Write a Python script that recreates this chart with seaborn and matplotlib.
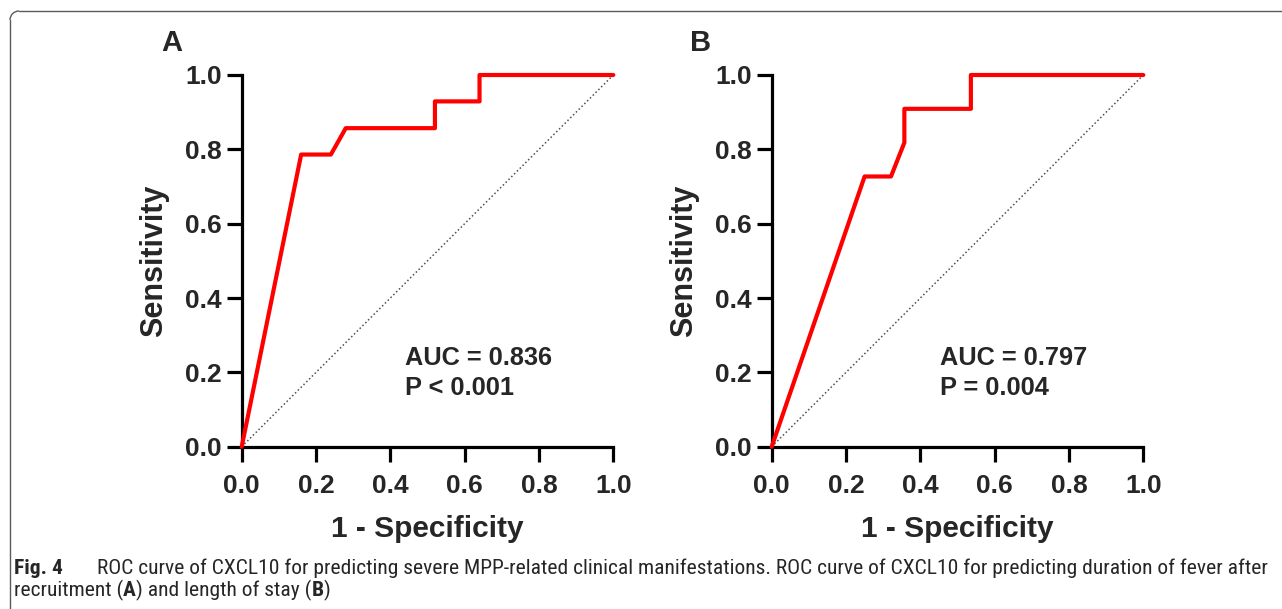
import numpy as np
import pandas as pd
import matplotlib
matplotlib.use("Agg")
import matplotlib.pyplot as plt
from matplotlib import font_manager
from matplotlib.lines import Line2D
from matplotlib.patches import Arc
import seaborn as sns

# ---- data ----
a_fpr = [0.0, 0.16, 0.24, 0.28, 0.52, 0.52, 0.64, 0.64, 1.0]
a_tpr = [0.0, 0.786, 0.786, 0.857, 0.857, 0.929, 0.929, 1.0, 1.0]
b_fpr = [0.0, 0.25, 0.321, 0.357, 0.357, 0.536, 0.536, 1.0]
b_tpr = [0.0, 0.727, 0.727, 0.818, 0.909, 0.909, 1.0, 1.0]
panel_labels = ["A", "B"]
auc_lines = [["AUC = 0.836", "P < 0.001"], ["AUC = 0.797", "P = 0.004"]]
ticks = [0.0, 0.2, 0.4, 0.6, 0.8, 1.0]
tick_labels = ["0.0", "0.2", "0.4", "0.6", "0.8", "1.0"]
x_label = "1 - Specificity"
y_label = "Sensitivity"
caption_bold = "Fig. 4"
caption_line1 = ("ROC curve of CXCL10 for predicting severe MPP-related clinical manifestations. "
                 "ROC curve of CXCL10 for predicting duration of fever after")
caption_line2 = [("recruitment (", "normal"), ("A", "bold"), (") and length of stay (", "normal"),
                 ("B", "bold"), (")", "normal")]

sns.set_theme(style="ticks")
names = {f.name for f in font_manager.fontManager.ttflist}
main_font = "Liberation Sans" if "Liberation Sans" in names else "DejaVu Sans"
plt.rcParams['font.family'] = [main_font, 'DejaVu Sans']

W, H = 1282, 609
fig = plt.figure(figsize=(W / 100, H / 100), dpi=100)
fig.patch.set_facecolor("white")

def px_rect(left, top, right, bottom):
    return [left / W, (H - bottom) / H, (right - left) / W, (bottom - top) / H]

panels = [
    (a_fpr, a_tpr, px_rect(241.7, 75, 613.3, 446.7), 0.44, (161, 30)),
    (b_fpr, b_tpr, px_rect(771.7, 75, 1143.3, 446.7), 0.453, (690.5, 30)),
]

for i, (fx, ty, rect, tx, lab_pos) in enumerate(panels):
    ax = fig.add_axes(rect)
    df = pd.DataFrame({"fpr": fx, "tpr": ty})
    ax.plot([0, 1], [0, 1], ls=(0, (1, 1.6)), color="#505050", lw=1.1, zorder=1)
    sns.lineplot(data=df, x="fpr", y="tpr", sort=False, estimator=None,
                 color="#ff0000", lw=3.0, ax=ax, zorder=3)
    for ln in ax.lines:
        ln.set_clip_on(False)
    ax.set_xlim(0, 1)
    ax.set_ylim(0, 1)
    ax.set_xticks(ticks)
    ax.set_yticks(ticks)
    ax.set_xticklabels(tick_labels, fontsize=19, fontweight="bold")
    ax.set_yticklabels(tick_labels, fontsize=19, fontweight="bold")
    for s in ["top", "right"]:
        ax.spines[s].set_visible(False)
    for s in ["left", "bottom"]:
        ax.spines[s].set_linewidth(2.3)
        ax.spines[s].set_color("black")
    ax.tick_params(axis="both", length=10.5, width=2.3, color="black", direction="out")
    ax.tick_params(axis="y", pad=4)
    ax.tick_params(axis="x", pad=9.5)
    ax.set_xlabel(x_label, fontsize=21.5, fontweight="bold", labelpad=12)
    ax.set_ylabel(y_label, fontsize=22, fontweight="bold", labelpad=11)
    ax.set_facecolor("white")
    ax.grid(False)
    for txt, yb in zip(auc_lines[i], [0.22, 0.139]):
        ax.text(tx, yb, txt, fontsize=18.3, fontweight="bold",
                ha="left", va="baseline", transform=ax.transData)
    fig.text(lab_pos[0] / W, 1 - 51 / H, panel_labels[i], fontsize=21,
             fontweight="bold", ha="left", va="baseline")

# ---- frame (rounded top-left corner) ----
fa = fig.add_axes([0, 0, 1, 1], zorder=-5)
fa.set_xlim(0, W)
fa.set_ylim(H, 0)
fa.axis("off")
r = 9
frame_col = "#5a5a5a"
fa.add_line(Line2D([10, 10], [H + 5, 11 + r], color=frame_col, lw=1.0))
fa.add_line(Line2D([10 + r, W + 5], [11, 11], color=frame_col, lw=1.0))
fa.add_patch(Arc((10 + r, 11 + r), 2 * r, 2 * r, theta1=180, theta2=270,
                 color=frame_col, lw=1.0))

# ---- caption ----
cap_font = "Roboto"
for cand in ["Liberation Sans Narrow", "Roboto Condensed", "Open Sans Condensed",
             "Noto Sans Condensed", "DejaVu Sans Condensed", "Arial Narrow"]:
    if cand in names:
        cap_font = cand
        break
cap_family = [cap_font, "DejaVu Sans"]
renderer = fig.canvas.get_renderer()

def text_width_px(t):
    return t.get_window_extent(renderer=renderer).width

cap_size = 12.0
probe = fig.text(0, 0, caption_line1, fontsize=cap_size, family=cap_family)
wp = text_width_px(probe)
probe.remove()
cap_size = cap_size * (1265 - 97) / wp

y1 = 1 - 574 / H
y2 = 1 - 596 / H
fig.text(14 / W, y1, caption_bold, fontsize=cap_size, fontweight="bold",
         family=cap_family, va="baseline", ha="left")
fig.text(97 / W, y1, caption_line1, fontsize=cap_size,
         family=cap_family, va="baseline", ha="left")
x = 14.0
for seg, wt in caption_line2:
    t = fig.text(x / W, y2, seg, fontsize=cap_size, fontweight=wt,
                 family=cap_family, va="baseline", ha="left")
    x += text_width_px(t)

fig.savefig("out.png", dpi=100, facecolor="white")
